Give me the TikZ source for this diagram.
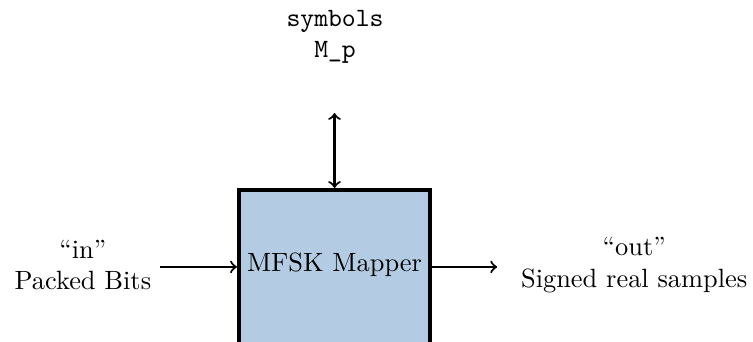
\documentclass[tikz,border=0pt]{standalone}
\usetikzlibrary{arrows}
\definecolor{boxblue}{RGB}{179,204,228}
\begin{document}
\begin{tikzpicture}[x=1pt,y=1pt,
  blockbox/.style={draw=black,line width=1.6pt,fill=boxblue,minimum width=72.3pt,minimum height=59.5pt,inner sep=0pt,text height=6.83pt,text depth=4.64pt},
  lbl/.style={align=center,inner sep=3.33pt},
  conn/.style={thick,->}]
\useasboundingbox (0,0) rectangle (285.2,-129.2);
\node[blockbox] (box) at (126.7,-101.75) {MFSK Mapper};
\node[lbl] (in) at (31.4,-100.4) {``in''\\Packed Bits};
\node[lbl] (out) at (240.2,-100.4) {``out''\\Signed real samples};
\node[lbl,font=\ttfamily] (sym) at (126.9,-14.0) {symbols\\M\_p};
\coordinate (outend) at (188.3,-101.1);
\coordinate (symend) at (126.7,-42.8);
\draw[conn] (in.east |- outend) -- (box.west |- outend);
\draw[conn] (box.east |- outend) -- (outend);
\draw[thick,<->] (symend) -- (box.north);
\end{tikzpicture}
\end{document}
